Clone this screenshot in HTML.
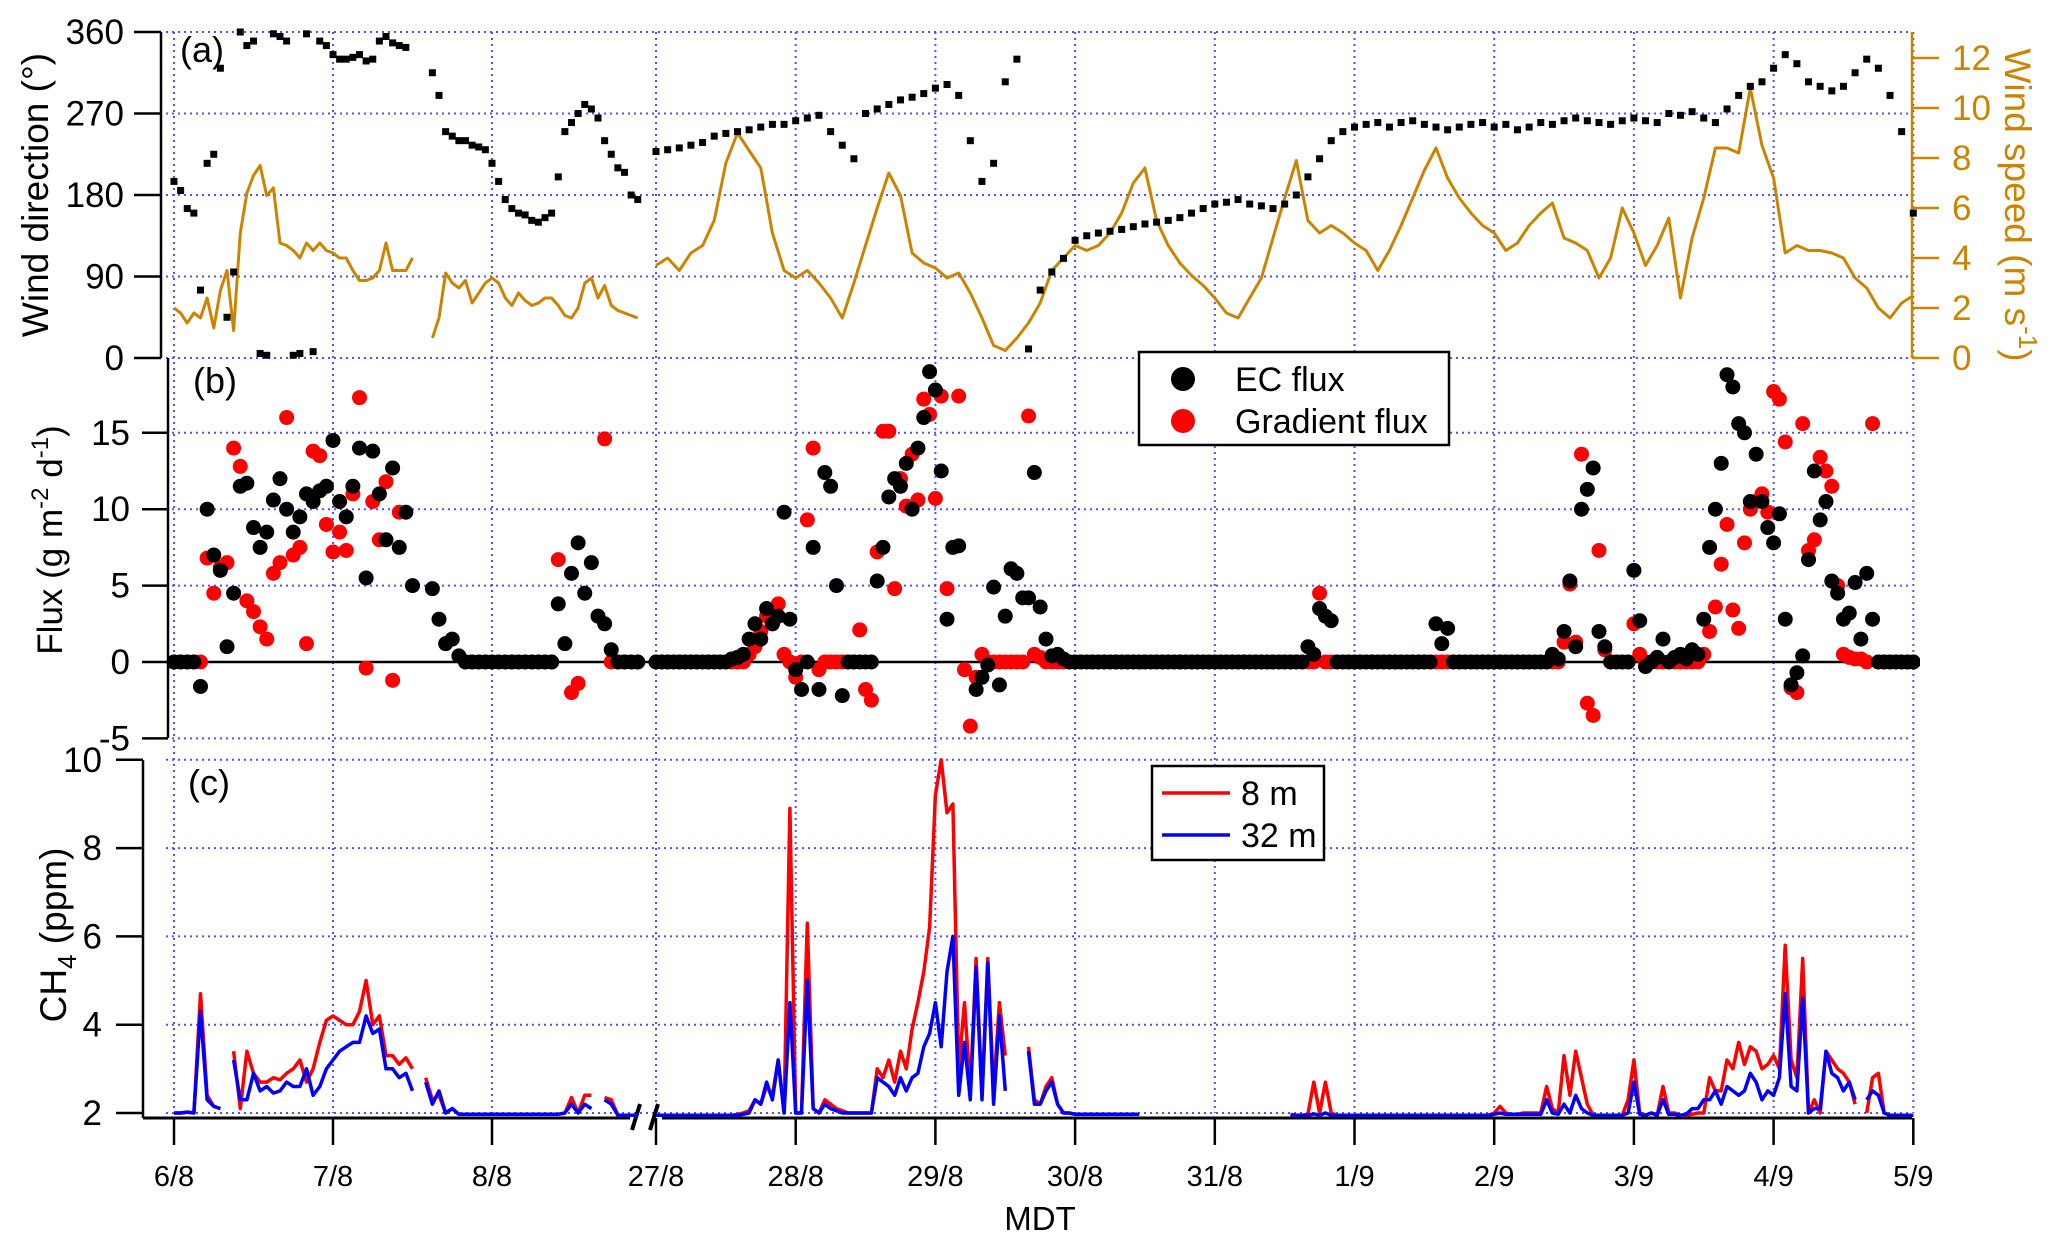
<!DOCTYPE html>
<html><head><meta charset="utf-8"><title>Wind, flux and CH4</title>
<style>
html,body{margin:0;padding:0;background:#fff;}
svg{display:block;font-family:"Liberation Sans",Arial,sans-serif;}
</style></head>
<body>
<svg id="chart" width="2067" height="1245" viewBox="0 0 2067 1245" xmlns="http://www.w3.org/2000/svg">
<g id="grid"></g>
<g id="axes"></g>
<g id="marks"></g>
<g id="labels"></g>
</svg>
<script>
// ---- tick data ----
const preDays = [6, 7, 8];
const postDays = [27, 28, 29, 30, 31, 32, 33, 34, 35, 36];
const preDayLabels = ["6/8", "7/8", "8/8"];
const postDayLabels = ["27/8", "28/8", "29/8", "30/8", "31/8", "1/9", "2/9", "3/9", "4/9", "5/9"];
const dirTicks = [0, 90, 180, 270, 360];
const speedTicks = [0, 2, 4, 6, 8, 10, 12];
const fluxTicks = [-5, 0, 5, 10, 15];
const ch4Ticks = [2, 4, 6, 8, 10];

// ---- series (start day, step in days, values) ----
const windDirAStart = 6.0;
const windDirA = [195,185,165,160,75,215,225,320,45,95,360,345,350,5,3,358,355,350,3,5,358,7,350,345,335,330,330,332,335,328,330,350,355,348,345,343];
const windDirBStart = 7 + 15/24;
const windDirB = [315,290,250,245,240,240,235,233,230,215,195,175,165,160,158,152,150,155,160,200,250,260,270,280,275,265,240,225,210,205,180,175];
const windDirPostStart = 27.0;
const windDirPost = [228,230,232,235,238,245,248,250,252,255,258,258,
262,265,268,250,235,220,270,275,280,285,288,292,
298,302,290,240,195,215,305,330,10,75,95,110,
130,135,138,140,142,145,148,150,152,155,160,165,
170,172,175,170,168,165,170,180,200,220,240,250,
255,258,260,255,260,262,258,255,252,255,258,260,
255,258,252,255,260,258,262,265,262,260,258,262,
265,262,260,270,268,272,265,260,275,290,300,305,
320,335,325,305,300,295,300,315,330,320,290,250,160];

const windSpdAStart = 6.0;
const windSpdA = [2.0,1.8,1.4,1.8,1.6,2.4,1.2,2.7,3.5,1.1,5.0,6.6,7.3,7.7,6.5,6.8,4.6,4.5,4.3,4.0,4.6,4.3,4.6,4.3,4.2,4.0,4.0,3.5,3.1,3.1,3.2,3.5,4.6,3.5,3.5,3.5,4.0];
const windSpdBStart = 7 + 15/24;
const windSpdB = [0.8,1.6,3.4,3.0,2.8,3.1,2.2,2.6,3.0,3.2,3.0,2.4,2.1,2.6,2.3,2.1,2.2,2.4,2.4,2.1,1.7,1.6,2.0,3.0,3.2,2.4,2.9,2.1,1.9,1.8,1.7,1.6];
const windSpdPostStart = 27.0;
const windSpdPost = [3.7,4.0,3.5,4.2,4.5,5.5,7.8,9.0,8.3,7.6,5.0,3.5,
3.2,3.5,3.0,2.4,1.6,3.0,4.5,6.0,7.4,6.5,4.2,3.8,
3.6,3.2,3.4,2.6,1.6,0.5,0.3,0.8,1.4,2.2,3.5,4.0,
4.5,4.3,4.5,5.0,5.8,7.0,7.6,5.5,4.5,3.8,3.3,2.9,
2.4,1.8,1.6,2.4,3.2,4.8,6.4,7.9,5.5,5.0,5.3,5.0,
4.6,4.3,3.5,4.3,5.3,6.4,7.5,8.4,7.2,6.4,5.8,5.3,
5.0,4.3,4.6,5.3,5.8,6.2,4.8,4.6,4.3,3.2,4.0,6.0,
5.0,3.7,4.5,5.6,2.4,4.8,6.4,8.4,8.4,8.2,10.8,8.5,
7.2,4.2,4.5,4.3,4.3,4.2,4.0,3.2,2.8,2.0,1.6,2.2,2.5];

const ecFluxPreStart = 6.0;
const ecFluxPre = [0,0,0,0,-1.6,10,7,6,1,4.5,11.5,11.7,8.8,7.5,8.5,10.6,12,10,8.5,9.5,11,10.5,11.2,11.5,
14.5,10.5,9.5,11.5,14,5.5,13.8,11,8,12.7,7.5,9.8,5,null,null,4.8,2.8,1.2,1.5,0.4,0,0,0,0,
0,0,0,0,0,0,0,0,0,0,3.8,1.2,5.8,7.8,4.5,6.5,3.0,2.5,0.8,0,0,0,0];
const gradFluxPreStart = 6.0;
const gradFluxPre = [0,0,0,0,0,6.8,4.5,6.2,6.5,14,12.8,4,3.3,2.3,1.5,5.8,6.5,16,7,7.5,1.2,13.8,13.5,9,
7.2,8.5,7.3,11,17.3,-0.4,10.5,8,11.8,-1.2,9.8,null,null,null,null,null,null,null,null,null,0,0,0,0,
0,0,0,0,0,0,0,0,0,0,6.7,null,-2.0,-1.4,null,null,null,14.6,0,0,0,0,0];
const ecFluxPostStart = 27.0;
const ecFluxPost = [0,0,0,0,0,0,0,0,0,0,0,0,0,0.2,0.3,0.5,1.5,2.5,1.5,3.5,2.5,3.0,9.8,2.8,
-0.5,-1.8,0,7.5,-1.8,12.4,11.5,5,-2.2,0,0,0,0,0,5.3,7.5,10.8,12,11.5,13,10,14,16,19,
17.8,12.5,2.8,7.5,7.6,null,null,-1.8,-1.0,-0.2,4.9,-1.5,3.0,6.1,5.8,4.2,4.2,12.4,3.6,1.5,0.4,0.5,0.2,0,
0,0,0,0,0,0,0,0,0,0,0,0,0,0,0,0,0,0,0,0,0,0,0,0,
0,0,0,0,0,0,0,0,0,0,0,0,0,0,0,0,1.0,0.5,3.5,3.0,2.7,0,0,0,
0,0,0,0,0,0,0,0,0,0,0,0,0,0,2.5,1.2,2.2,0,0,0,0,0,0,0,
0,0,0,0,0,0,0,0,0,0,0.5,0.2,2.0,5.3,1.0,10,11.3,12.7,2.0,1.0,0,0,0,0,
6.0,2.7,-0.3,0,0.3,1.5,0,0.3,0.5,0.2,0.8,0.5,2.8,7.5,10.0,13.0,18.8,18.0,15.6,15.0,10.5,13.6,10.5,8.8,
7.8,9.7,2.8,-1.5,-0.7,0.4,6.7,12.5,9.3,10.5,5.3,4.5,2.8,3.2,5.2,1.5,5.8,2.8,0,0,0,0,0,0,0];
const gradFluxPostStart = 27.0;
const gradFluxPost = [0,0,0,0,0,0,0,0,0,0,0,0,0,0,0,0,0.5,1.0,2.0,3.0,2.5,3.8,0.5,0,
-1.0,0,9.3,14,-0.5,0,0,0,0,0,0,2.1,-1.8,-2.5,7.2,15.1,15.1,4.8,12,10.2,13.6,10.6,17.2,16.2,
10.7,17.4,4.8,null,17.4,-0.5,-4.2,-1,0.5,0,0,0,0,0,0,0,16.1,0.5,0.3,0,0,0,0,0,
0,0,0,0,0,0,0,0,0,0,0,0,0,0,0,0,0,0,0,0,0,0,0,0,
0,0,0,0,0,0,0,0,0,0,0,0,0,0,0,0,0,0,4.5,0,0,0,0,0,
0,0,0,0,0,0,0,0,0,0,0,0,0,0,0,0,0,0,0,0,0,0,0,0,
0,0,0,0,0,0,0,0,0,0,0,0,1.3,5.1,1.3,13.6,-2.7,-3.5,7.3,0.8,0,0,0,0,
2.5,0.5,0,0,0,0,0,0,0,0,0,0,0.5,2.0,3.6,6.4,9.0,3.4,2.2,7.8,10,10.5,11,9.8,
17.7,17.2,14.4,-1.7,-2.0,15.6,7.3,8.0,13.4,12.5,11.5,5.0,0.5,0.3,0.2,0.2,0,15.6,0,0,0,0,0,0,0];

const ch4RedPreStart = 6.0;
const ch4RedPre = [2.0,2.0,2.02,2.0,4.7,2.4,2.15,2.1,null,3.4,2.1,3.4,2.9,2.7,2.7,2.8,2.75,2.9,3.0,3.2,2.7,3.0,3.6,4.1,
4.2,4.1,4.0,4.0,4.3,5.0,4.0,4.2,3.3,3.3,3.1,3.25,3.0,null,2.8,2.3,2.4,2.0,2.1,1.97,1.97,1.97,1.97,1.97,
1.97,1.97,1.97,1.97,1.97,1.97,1.97,1.97,1.97,1.97,1.97,2.0,2.35,2.0,2.4,2.4,null,2.35,2.3,1.95,1.95,1.95,1.95];
const ch4BluePreStart = 6.0;
const ch4BluePre = [2.0,2.0,2.02,2.0,4.3,2.3,2.15,2.1,null,3.2,2.3,2.3,2.9,2.5,2.6,2.45,2.5,2.7,2.6,2.6,3.0,2.4,2.6,3.0,
3.2,3.4,3.5,3.6,3.6,4.2,3.8,3.9,3.0,3.0,2.8,2.9,2.5,null,2.7,2.2,2.5,2.0,2.1,1.97,1.97,1.97,1.97,1.97,
1.97,1.97,1.97,1.97,1.97,1.97,1.97,1.97,1.97,1.97,1.97,2.0,2.2,2.0,2.2,2.1,null,2.3,2.2,1.95,1.95,1.95,1.95];
const ch4RedPostStart = 27.0;
const ch4RedPost = [1.95,1.95,1.95,1.95,1.95,1.95,1.95,1.95,1.95,1.95,1.95,1.95,1.95,1.95,1.97,2.0,2.05,2.3,2.2,2.6,2.4,3.2,2.0,8.9,
2.0,2.0,6.3,2.1,2.0,2.3,2.2,2.1,2.05,2.0,2.0,2.0,2.0,2.0,3.0,2.8,3.2,2.7,3.4,3.0,3.9,4.5,5.2,6.2,
9.2,10.0,8.8,9.0,3.0,4.5,2.5,5.5,2.4,5.5,2.5,4.5,3.3,null,null,null,3.5,2.3,2.2,2.6,2.8,2.2,2.0,2.0,
1.97,1.97,1.97,1.97,1.97,1.97,1.97,1.97,1.97,1.97,1.97,1.97,null,null,null,null,null,null,null,null,null,null,null,null,
null,null,null,null,null,null,null,null,null,null,null,null,null,1.97,1.95,1.95,1.97,2.7,2.0,2.7,2.0,1.95,1.95,1.95,
1.95,1.95,1.95,1.95,1.95,1.95,1.95,1.95,1.95,1.95,1.95,1.95,1.95,1.95,1.95,1.95,1.95,1.95,1.95,1.95,1.95,1.95,1.95,1.95,
2.0,2.15,2.0,1.97,1.97,2.0,2.0,2.0,2.0,2.6,2.1,2.0,3.3,2.4,3.4,2.8,2.2,1.95,1.95,1.95,1.95,1.95,1.95,2.3,
3.2,2.0,1.95,2.0,1.95,2.6,2.0,2.0,1.95,1.95,1.97,2.0,2.0,2.8,2.5,2.5,3.2,3.0,3.6,3.1,3.5,3.4,3.0,3.1,
3.3,3.0,5.8,3.2,2.8,5.5,2.0,2.3,2.0,3.4,3.2,3.0,2.9,2.7,2.2,null,2.0,2.8,2.9,2.0,1.95,1.95,1.95,1.95,1.95];
const ch4BluePostStart = 27.0;
const ch4BluePost = [1.95,1.95,1.95,1.95,1.95,1.95,1.95,1.95,1.95,1.95,1.95,1.95,1.95,1.95,1.95,1.97,2.0,2.3,2.2,2.7,2.3,3.2,2.0,4.5,
2.0,2.0,5.0,2.1,2.0,2.2,2.1,2.05,2.0,2.0,2.0,2.0,2.0,2.0,2.8,2.7,2.6,2.4,2.8,2.5,2.8,2.9,3.5,3.8,
4.5,3.5,5.2,6.0,2.4,3.6,2.3,5.3,2.3,5.4,2.2,4.2,2.5,null,null,null,3.4,2.2,2.2,2.5,2.7,2.2,2.0,2.0,
1.97,1.97,1.97,1.97,1.97,1.97,1.97,1.97,1.97,1.97,1.97,1.97,null,null,null,null,null,null,null,null,null,null,null,null,
null,null,null,null,null,null,null,null,null,null,null,null,null,1.95,1.95,1.95,1.95,1.98,1.95,2.0,1.95,1.95,1.95,1.95,
1.95,1.95,1.95,1.95,1.95,1.95,1.95,1.95,1.95,1.95,1.95,1.95,1.95,1.95,1.95,1.95,1.95,1.95,1.95,1.95,1.95,1.95,1.95,1.95,
1.97,2.0,1.97,1.97,1.97,1.97,1.97,1.97,1.97,2.3,2.0,1.97,2.2,2.0,2.4,2.1,2.0,1.95,1.95,1.95,1.95,1.95,1.95,2.0,
2.7,1.97,1.95,2.0,1.95,2.3,1.97,1.97,1.95,1.97,2.1,2.1,2.3,2.3,2.5,2.2,2.6,2.5,2.4,2.5,2.9,2.7,2.3,2.5,
2.4,2.8,4.7,2.6,2.5,4.6,2.0,2.1,2.1,3.4,2.9,2.8,2.5,2.7,2.3,null,2.3,2.5,2.4,2.0,1.95,1.95,1.95,1.95,1.95];

// ---- scales ----
const HOUR = 1/24, TWOH = 2/24;
function xDay(d){ return d < 20 ? 174 + 159*(d-6) : 656 + 139.7*(d-27); }
function yDir(v){ return 358 - v/360*326; }
function ySpd(v){ return 358 - v*25; }
function yFlux(v){ return 662 - v*15.28; }
function yCh4(v){ return 1113 - (v-2)*44.15; }

const NS = "http://www.w3.org/2000/svg";
function el(tag, attrs, parent){
  const e = document.createElementNS(NS, tag);
  for (const k in attrs) e.setAttribute(k, attrs[k]);
  parent.appendChild(e); return e;
}
const grid = document.getElementById('grid');
const axes = document.getElementById('axes');
const marks = document.getElementById('marks');
const labels = document.getElementById('labels');
const GRIDC = "#5050ff";
const ORANGE = "#cc8400";

// clip paths
const defs = el('defs', {}, document.getElementById('chart'));
const cpA = el('clipPath', {id:'clipA'}, defs); el('rect',{x:120,y:28,width:1800,height:334},cpA);
const cpB = el('clipPath', {id:'clipB'}, defs); el('rect',{x:160,y:360,width:1760,height:380},cpB);
const cpC = el('clipPath', {id:'clipC'}, defs); el('rect',{x:150,y:740,width:1770,height:380},cpC);

// ---- grid ----
[...preDays, ...postDays].forEach(d => {
  const g = el('line', {x1:xDay(d), x2:xDay(d), y1:32, y2:1113, stroke:GRIDC, 'stroke-width':2, 'stroke-dasharray':'2 4'}, grid);
  
  
});
function hgrid(y){
  const g = el('line', {x1:166, x2:1912, y1:y, y2:y, stroke:GRIDC, 'stroke-width':2, 'stroke-dasharray':'2 4'}, grid);
  
  
}
dirTicks.forEach(v => hgrid(yDir(v)));
fluxTicks.filter(v => v !== 0).forEach(v => hgrid(yFlux(v)));
ch4Ticks.forEach(v => hgrid(yCh4(v)));

// ---- axes ----
function line(x1,y1,x2,y2,stroke,w,name){
  const l = el('line', {x1,y1,x2,y2,stroke,'stroke-width':w}, axes);
  
  
  return l;
}
function text(x,y,str,opts,name){
  const t = el('text', Object.assign({x,y,'font-size':34,fill:'#000'}, opts||{}), labels);
  t.textContent = str;
  
  
  return t;
}
// panel a
line(161,32,161,358,'#000',2.5,'wind-direction-axis');
dirTicks.forEach(v => { line(134,yDir(v),161,yDir(v),'#000',2.5,'wind-direction-tick'); text(124,yDir(v)+12,String(v),{'text-anchor':'end','font-size':35},'wind-direction-tick-label'); });
line(1912,32,1912,358,ORANGE,2.5,'wind-speed-axis');
speedTicks.forEach(v => { line(1912,ySpd(v),1939,ySpd(v),ORANGE,2.5,'wind-speed-tick'); text(1952,ySpd(v)+12,String(v),{'font-size':35,fill:ORANGE},'wind-speed-tick-label'); });
// panel b
line(168,358,168,738,'#000',2.5,'flux-axis');
fluxTicks.forEach(v => { line(142,yFlux(v),168,yFlux(v),'#000',2.5,'flux-tick'); text(130,yFlux(v)+12,String(v),{'text-anchor':'end','font-size':35},'flux-tick-label'); });
line(168,yFlux(0),1912,yFlux(0),'#000',2.5,'flux-zero-line');
// panel c
line(143,760,143,1118,'#000',2.5,'ch4-axis');
ch4Ticks.forEach(v => { line(116,yCh4(v),143,yCh4(v),'#000',2.5,'ch4-tick'); text(102,yCh4(v)+12,String(v),{'text-anchor':'end','font-size':35},'ch4-tick-label'); });
// x axis with break
line(143,1118,630,1118,'#000',3,'x-axis-line-pre');
line(662,1118,1912,1118,'#000',3,'x-axis-line-post');
line(632,1130,640,1104,'#000',4,'axis-break-mark');
line(650,1130,658,1104,'#000',4,'axis-break-mark');
preDays.forEach((d,i) => { line(xDay(d),1118,xDay(d),1145,'#000',2.5,'x-tick'); text(xDay(d),1186,preDayLabels[i],{'text-anchor':'middle','font-size':29},'x-tick-label'); });
postDays.forEach((d,i) => { line(xDay(d),1118,xDay(d),1145,'#000',2.5,'x-tick'); text(xDay(d),1186,postDayLabels[i],{'text-anchor':'middle','font-size':29},'x-tick-label'); });

// titles
text(1040,1230,'MDT',{'text-anchor':'middle','font-size':33},'x-axis-title');
text(0,0,'Wind direction (°)',{'text-anchor':'middle','font-size':37,transform:'translate(48,195) rotate(-90)'},'wind-direction-title');
const ft = text(0,0,'',{'text-anchor':'middle','font-size':35,transform:'translate(62,540) rotate(-90)'},'flux-title');
ft.innerHTML = 'Flux (g m<tspan dy="-14" font-size="24">-2</tspan><tspan dy="14"> d</tspan><tspan dy="-14" font-size="24">-1</tspan><tspan dy="14">)</tspan>';
const ct = text(0,0,'',{'text-anchor':'middle','font-size':37,transform:'translate(66,935) rotate(-90)'},'ch4-title');
ct.innerHTML = 'CH<tspan dy="10" font-size="26">4</tspan><tspan dy="-10"> (ppm)</tspan>';
const st = text(0,0,'',{'text-anchor':'middle','font-size':37,fill:ORANGE,transform:'translate(2005,205) rotate(90)'},'wind-speed-title');
st.innerHTML = 'Wind speed (m s<tspan dy="-14" font-size="26">-1</tspan><tspan dy="14">)</tspan>';
text(180,62,'(a)',{'font-size':36},'panel-a-label');
text(193,393,'(b)',{'font-size':36},'panel-b-label');
text(188,795,'(c)',{'font-size':36},'panel-c-label');

// ---- marks ----
function linePath(start, step, vals, yf){
  let d = '', pen = false;
  vals.forEach((v,i) => {
    if (v === null) { pen = false; return; }
    const x = xDay(start + i*step), y = yf(v);
    d += (pen ? 'L' : 'M') + x.toFixed(1) + ' ' + y.toFixed(1);
    pen = true;
  });
  return d;
}
function drawLine(start, step, vals, yf, color, w, clip, name){
  const p = el('path', {d:linePath(start,step,vals,yf), fill:'none', stroke:color, 'stroke-width':w, 'stroke-linejoin':'round', 'clip-path':'url(#'+clip+')'}, marks);
  
  
}
function drawSquares(start, step, vals, yf, name){
  const g = el('g', {'clip-path':'url(#clipA)'}, marks);
  
  
  vals.forEach((v,i) => {
    if (v === null) return;
    const r = el('rect', {x:xDay(start+i*step)-3.5, y:yf(v)-3.5, width:7, height:7, fill:'#000'}, g);
    
    
  });
}
function drawDots(start, step, vals, color, name){
  const g = el('g', {'clip-path':'url(#clipB)'}, marks);
  
  
  vals.forEach((v,i) => {
    if (v === null) return;
    const c = el('circle', {cx:xDay(start+i*step), cy:yFlux(v), r:7.5, fill:color}, g);
    
    
  });
}
// panel a
drawLine(windSpdAStart, HOUR, windSpdA, ySpd, ORANGE, 3, 'clipA', 'wind-speed-line');
drawLine(windSpdBStart, HOUR, windSpdB, ySpd, ORANGE, 3, 'clipA', 'wind-speed-line');
drawLine(windSpdPostStart, TWOH, windSpdPost, ySpd, ORANGE, 3, 'clipA', 'wind-speed-line');
drawSquares(windDirAStart, HOUR, windDirA, yDir, 'wind-direction-series');
drawSquares(windDirBStart, HOUR, windDirB, yDir, 'wind-direction-series');
drawSquares(windDirPostStart, TWOH, windDirPost, yDir, 'wind-direction-series');
// panel b
drawDots(gradFluxPreStart, HOUR, gradFluxPre, '#ff0000', 'gradient-flux');
drawDots(gradFluxPostStart, HOUR, gradFluxPost, '#ff0000', 'gradient-flux');
drawDots(ecFluxPreStart, HOUR, ecFluxPre, '#000000', 'ec-flux');
drawDots(ecFluxPostStart, HOUR, ecFluxPost, '#000000', 'ec-flux');
// panel c
drawLine(ch4RedPreStart, HOUR, ch4RedPre, yCh4, '#ff0000', 3.5, 'clipC', 'ch4-8m-line');
drawLine(ch4RedPostStart, HOUR, ch4RedPost, yCh4, '#ff0000', 3.5, 'clipC', 'ch4-8m-line');
drawLine(ch4BluePreStart, HOUR, ch4BluePre, yCh4, '#0000ff', 3.5, 'clipC', 'ch4-32m-line');
drawLine(ch4BluePostStart, HOUR, ch4BluePost, yCh4, '#0000ff', 3.5, 'clipC', 'ch4-32m-line');

// ---- legends ----
const lb = el('g', {}, labels);


el('rect', {x:1139, y:352, width:310, height:93, fill:'#fff', stroke:'#000', 'stroke-width':2.5}, lb);
el('circle', {cx:1183, cy:379, r:12, fill:'#000'}, lb);
el('circle', {cx:1183, cy:421, r:12, fill:'#ff0000'}, lb);
const l1 = el('text', {x:1235, y:391, 'font-size':34}, lb); l1.textContent = 'EC flux';


const l2 = el('text', {x:1235, y:433, 'font-size':34}, lb); l2.textContent = 'Gradient flux';



const lc = el('g', {}, labels);


el('rect', {x:1152, y:766, width:172, height:94, fill:'#fff', stroke:'#000', 'stroke-width':2.5}, lc);
el('line', {x1:1162, x2:1230, y1:793, y2:793, stroke:'#ff0000', 'stroke-width':3.5}, lc);
el('line', {x1:1162, x2:1230, y1:835, y2:835, stroke:'#0000ff', 'stroke-width':3.5}, lc);
const l3 = el('text', {x:1241, y:805, 'font-size':34}, lc); l3.textContent = '8 m';


const l4 = el('text', {x:1241, y:847, 'font-size':34}, lc); l4.textContent = '32 m';


</script>
</body></html>
